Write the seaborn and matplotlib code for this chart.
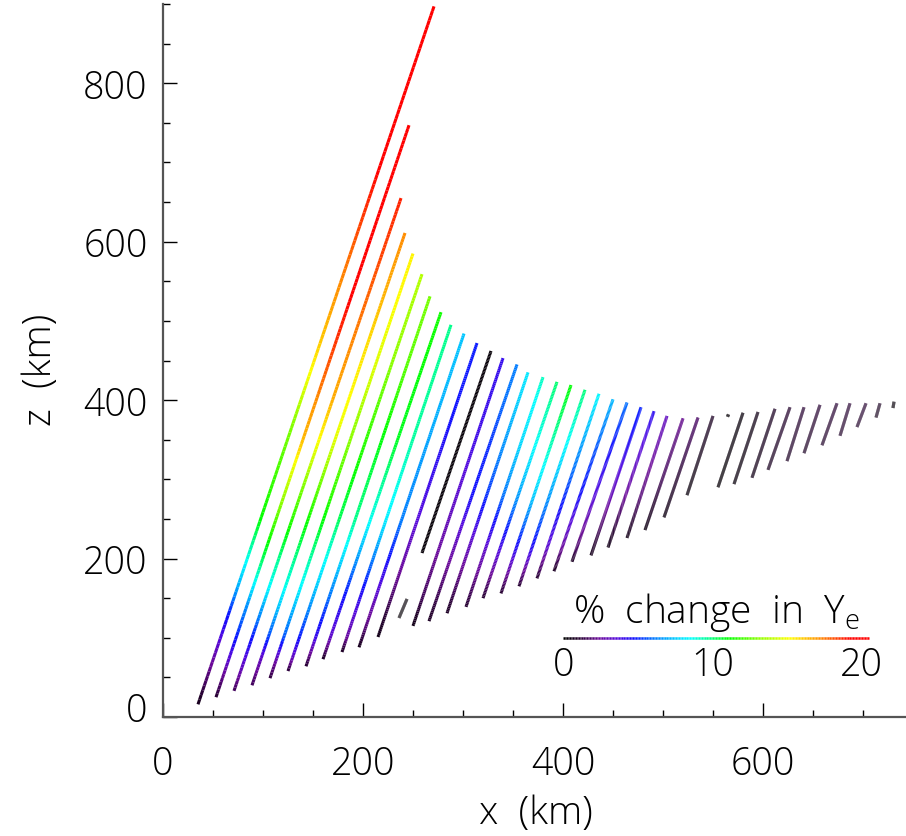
import numpy as np
import matplotlib
matplotlib.use("Agg")
import matplotlib.pyplot as plt
import matplotlib.transforms as mtransforms
import seaborn as sns
from matplotlib.collections import LineCollection
from matplotlib.colors import LinearSegmentedColormap, Normalize
from matplotlib.ticker import MultipleLocator

# ---------------------------------------------------------------------------
# Ray data: horizontal position (km) at the lower and upper end of each ray,
# and the % change in Y_e read at a set of heights z (km) along the ray.
# The first and last height of each list are the ray's end points.
# ---------------------------------------------------------------------------
ray_x_low = [35, 53, 71, 89, 107, 125, 143, 160, 179, 196, 215,
             236, 259,
             250, 266, 284, 303, 320, 338, 356, 374, 391, 409, 428, 445,
             464, 482, 501, 524, 564.5,
             555, 571, 589, 605, 624, 641, 659, 677, 694, 713, 730]
ray_x_high = [271, 246, 238, 242, 250, 259, 267, 278, 288, 301, 314,
              244, 328,
              340, 354, 365, 380, 394, 408, 422, 436, 450, 464, 478, 491,
              504, 520, 535, 550, 565.5,
              580, 595, 612, 627, 641, 657, 674, 687, 703, 717, 731]

ray_z = [
    [16, 40, 73, 102, 136, 165, 200, 250, 313, 376, 426, 477, 527, 578, 654, 742, 897],
    [25, 57, 82, 102, 145, 165, 200, 250, 317, 351, 401, 460, 527, 620, 747],
    [33, 73, 102, 140, 165, 200, 237, 288, 351, 401, 490, 578, 655],
    [40, 73, 102, 165, 250, 300, 351, 401, 477, 540, 611],
    [49, 70, 102, 165, 250, 351, 376, 426, 527, 585],
    [58, 75, 102, 165, 250, 376, 450, 559],
    [64, 102, 165, 250, 376, 440, 531],
    [73, 102, 165, 250, 351, 511],
    [82, 102, 165, 250, 351, 495],
    [88, 110, 165, 250, 376, 484],
    [101, 165, 250, 376, 472],
    [125, 149],
    [207, 462],
    [115, 150, 216, 279, 342, 405, 453],
    [121, 216, 279, 342, 405, 445],
    [131, 216, 279, 342, 405, 435],
    [139, 216, 279, 342, 405, 429],
    [150, 216, 279, 342, 405, 423],
    [156, 216, 279, 342, 405, 419],
    [165, 216, 279, 342, 405, 413],
    [175, 216, 279, 342, 408],
    [184, 216, 279, 342, 401],
    [196, 216, 279, 342, 397],
    [204, 279, 342, 391],
    [214, 279, 342, 386],
    [226, 279, 342, 380],
    [236, 300, 377],
    [252, 320, 378],
    [280, 380],
    [379, 382],
    [290, 384],
    [294, 385],
    [302, 389],
    [312, 391],
    [323, 391],
    [333, 394],
    [343, 396],
    [355, 396],
    [366, 396],
    [378, 396],
    [390, 398],
]

ray_change = [
    [0.6, 1.5, 2.5, 3.6, 5.0, 6.8, 8.5, 10.8, 11.8, 12.8, 14.5, 15.8, 16.5, 17.2, 18.3, 19.5, 20.0],
    [1.0, 2.5, 3.8, 4.8, 6.5, 8.0, 10.0, 12.0, 14.5, 16.0, 16.8, 17.8, 18.8, 19.5, 20.0],
    [1.5, 3.5, 4.8, 6.8, 8.3, 9.5, 11.0, 12.5, 14.8, 16.2, 17.0, 17.8, 18.3],
    [1.5, 3.0, 5.3, 8.5, 11.0, 12.5, 14.3, 14.8, 15.4, 16.2, 16.8],
    [1.2, 2.5, 5.5, 8.2, 10.8, 12.8, 13.0, 14.0, 14.8, 15.0],
    [1.0, 3.0, 4.8, 7.3, 10.0, 11.8, 12.8, 13.5],
    [1.0, 4.0, 6.3, 9.5, 11.0, 12.0, 12.5],
    [0.8, 3.2, 5.0, 8.5, 10.5, 11.0],
    [0.8, 2.5, 4.6, 8.0, 9.3, 9.5],
    [0.6, 1.8, 3.5, 6.0, 6.8, 7.2],
    [0.5, 2.0, 3.5, 4.6, 4.8],
    [0.2, 0.2],
    [0.2, 0.2],
    [0.5, 1.5, 2.5, 3.2, 3.8, 4.0, 4.0],
    [0.8, 2.8, 4.5, 5.0, 5.8, 6.0],
    [0.8, 3.0, 5.0, 6.3, 7.5, 7.9],
    [1.0, 3.3, 5.8, 7.5, 8.4, 9.0],
    [1.0, 3.8, 6.5, 8.3, 9.5, 9.8],
    [1.0, 4.4, 7.3, 9.0, 10.5, 10.8],
    [1.0, 4.4, 6.5, 8.2, 9.5, 9.7],
    [1.0, 3.3, 5.0, 6.5, 8.2],
    [0.8, 2.5, 4.5, 5.5, 7.0],
    [0.8, 1.8, 3.5, 4.6, 5.8],
    [0.6, 2.8, 4.2, 4.9],
    [0.5, 2.3, 3.5, 4.2],
    [0.5, 1.9, 2.6, 3.0],
    [0.4, 1.5, 2.2],
    [0.4, 1.2, 1.7],
    [0.3, 0.8],
    [0.2, 0.2],
    [0.2, 0.3],
    [0.3, 0.5],
    [0.5, 0.8],
    [0.7, 1.0],
    [0.8, 1.1],
    [0.8, 1.1],
    [0.9, 1.1],
    [0.9, 1.1],
    [0.9, 1.1],
    [0.6, 0.8],
    [0.2, 0.3],
]

# Colour key
key_range = [0, 20]
key_ticks = [0, 10, 20]
key_title = "%  change  in  Y$_{\\mathrm{e}}$"

x_ticks = [0, 200, 400, 600]
z_ticks = [0, 200, 400, 600, 800]

# ---------------------------------------------------------------------------
# Styling
# ---------------------------------------------------------------------------
sns.set_theme(style="ticks")
plt.rcParams["font.family"] = ["Open Sans", "DejaVu Sans"]
plt.rcParams["font.weight"] = 300
plt.rcParams["text.color"] = "black"
plt.rcParams["axes.labelcolor"] = "black"
plt.rcParams["mathtext.fontset"] = "custom"
plt.rcParams["mathtext.rm"] = "Open Sans:light"
FS = 27
WT = 300

# rainbow table: black -> purple -> blue -> cyan -> green -> yellow -> red
cmap = LinearSegmentedColormap.from_list("rainbow_ye", [
    (0.0 / 20, (0.00, 0.00, 0.00)),
    (1.0 / 20, (0.14, 0.00, 0.18)),
    (2.3 / 20, (0.42, 0.03, 0.60)),
    (3.5 / 20, (0.33, 0.03, 0.87)),
    (4.6 / 20, (0.05, 0.05, 1.00)),
    (5.8 / 20, (0.00, 0.45, 1.00)),
    (7.2 / 20, (0.00, 0.78, 1.00)),
    (8.3 / 20, (0.00, 1.00, 1.00)),
    (9.5 / 20, (0.00, 1.00, 0.55)),
    (10.8 / 20, (0.00, 1.00, 0.00)),
    (12.8 / 20, (0.55, 1.00, 0.00)),
    (14.8 / 20, (1.00, 1.00, 0.00)),
    (16.8 / 20, (1.00, 0.55, 0.00)),
    (18.8 / 20, (1.00, 0.00, 0.00)),
    (20.0 / 20, (1.00, 0.00, 0.00)),
])
norm = Normalize(vmin=key_range[0], vmax=key_range[1])


def gradient_line(ax, x0, x1, zs, vs, lw=2.2, n=150):
    """Straight ray from (x0, zs[0]) to (x1, zs[-1]) shaded by value."""
    zs = np.asarray(zs, float)
    vs = np.asarray(vs, float)
    z = np.linspace(zs[0], zs[-1], n)
    x = x0 + (x1 - x0) * (z - zs[0]) / (zs[-1] - zs[0])
    v = np.interp(z, zs, vs)
    pts = np.column_stack([x, z])
    segs = np.stack([pts[:-1], pts[1:]], axis=1)
    lc = LineCollection(segs, cmap=cmap, norm=norm, linewidths=lw,
                        capstyle="butt")
    lc.set_array(0.5 * (v[:-1] + v[1:]))
    ax.add_collection(lc)
    return lc


fig = plt.figure(figsize=(9.06, 8.37), dpi=100)
ax = fig.add_axes([163 / 906, 119 / 837, 743 / 906, 713 / 837])

for x0, x1, zs, vs in zip(ray_x_low, ray_x_high, ray_z, ray_change):
    gradient_line(ax, x0, x1, zs, vs)

# colour key drawn inside the plot
kx0, kx1, kz = 400, 706, 99.7
key_vals = np.linspace(key_range[0], key_range[1], 200)
key_x = kx0 + (kx1 - kx0) * (key_vals - key_range[0]) / (key_range[1] - key_range[0])
pts = np.column_stack([key_x, np.full_like(key_x, kz)])
segs = np.stack([pts[:-1], pts[1:]], axis=1)
lc = LineCollection(segs, cmap=cmap, norm=norm, linewidths=1.8, capstyle="butt")
lc.set_array(0.5 * (key_vals[:-1] + key_vals[1:]))
ax.add_collection(lc)
for t in key_ticks:
    tx = 401 + (698 - 401) * (t - key_range[0]) / (key_range[1] - key_range[0])
    ax.text(tx, 65.6, str(t), ha="center", va="center", fontsize=FS,
            color="black", fontweight=WT)
ax.text(553, 119.9, key_title, ha="center", va="baseline", fontsize=FS + 1,
        color="black", fontweight=WT)

# axes
ax.set_xlim(0, 743)
ax.set_ylim(0, 900)
sns.despine(ax=ax, top=True, right=True)
for side in ("left", "bottom"):
    ax.spines[side].set_color("#555555")
    ax.spines[side].set_linewidth(1.6)
ax.set_xticks(x_ticks)
ax.set_yticks(z_ticks)
ax.xaxis.set_minor_locator(MultipleLocator(50))
ax.yaxis.set_minor_locator(MultipleLocator(50))
ax.tick_params(which="both", direction="in", color="black", width=1.0,
               labelsize=FS, labelcolor="black")
ax.tick_params(which="major", length=10)
ax.tick_params(which="minor", length=5)
ax.tick_params(axis="x", pad=20)
ax.tick_params(axis="y", pad=11)
ax.set_facecolor("white")
for lab in ax.get_xticklabels() + ax.get_yticklabels():
    lab.set_fontweight(WT)

# lift the lowest height label off the corner
zero_lab = ax.get_yticklabels()[0]
zero_lab.set_transform(zero_lab.get_transform() +
                       mtransforms.ScaledTranslation(0, 11 / 100, fig.dpi_scale_trans))

fig.text(536 / 906, 1 - 814 / 837, "x  (km)", ha="center", va="center",
         fontsize=FS + 1, fontweight=WT, color="black")
fig.text(41 / 906, 1 - 370 / 837, "z  (km)", ha="center", va="center",
         rotation=90, fontsize=FS + 1, fontweight=WT, color="black")

fig.savefig("out.png", dpi=100, facecolor="white")
